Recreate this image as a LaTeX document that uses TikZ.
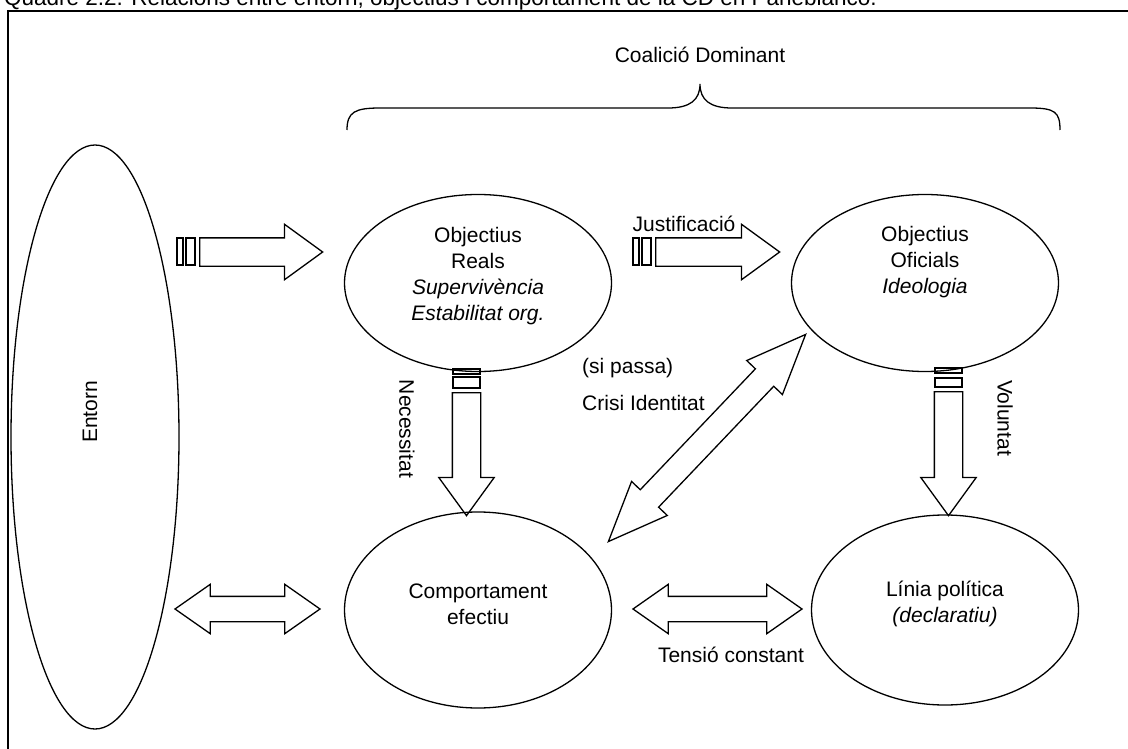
\documentclass[tikz,border=0pt]{standalone}
\usepackage{fontspec}
\setmainfont{Liberation Sans}
\usetikzlibrary{shapes.geometric,shapes.arrows}

\tikzset{
  ell/.style={draw, ellipse, line width=1.3pt, inner sep=0pt},
  txt/.style={font=\fontsize{21}{26}\selectfont, align=center, inner sep=0pt},
  fwdarrow/.style={draw, line width=1.3pt, single arrow, inner xsep=0pt, inner ysep=13.5pt,
    single arrow head extend=13.5pt, single arrow tip angle=72},
  twoarrow/.style={draw, line width=1.3pt, double arrow, inner xsep=0pt, inner ysep=12pt,
    double arrow head extend=12pt, double arrow tip angle=70},
  stripe/.style={draw, line width=1.3pt}
}

\begin{document}
\begin{tikzpicture}[x=1pt, y=-1pt]
\useasboundingbox (0,0) rectangle (1128,749);

% Title and frame
\node[anchor=base west, inner sep=0pt, font=\fontsize{22.5}{26}\selectfont] (title) at (4,5.5)
  {Quadre 2.2. Relacions entre entorn, objectius i comportament de la CD en Panebianco.};
\draw[line width=1.5pt] (8,1200) -- (8,11) -- (1200,11);

% Coalicio
\node[txt] (coal) at (700,55) {Coalició Dominant};
\draw[line width=1.3pt] (347,130) .. controls (347,112) and (355,108) .. (380,108) -- (668,108)
  .. controls (690,108) and (700,100) .. (700,84)
  .. controls (700,100) and (710,108) .. (732,108) -- (1030,108)
  .. controls (1055,108) and (1060,112) .. (1060,130);

% Ellipses
\node[ell, minimum width=168pt, minimum height=584pt] (entorn) at (95,437) {};
\node[txt, rotate=90] (entlbl) at (90,412) {Entorn};

\node[ell, minimum width=267pt, minimum height=177pt] (reals) at (478,283) {};
\node[txt] (realslbl) at (478,276) {Objectius\\Reals\\\textit{Supervivència}\\\textit{Estabilitat org.}};

\node[ell, minimum width=267pt, minimum height=177pt] (oficials) at (925,283) {};
\node[txt] (oficlbl) at (925,262) {Objectius\\Oficials\\\textit{Ideologia}};

\node[ell, minimum width=267pt, minimum height=196pt] (comport) at (478,610) {};
\node[txt] (complbl) at (478,604) {Comportament\\efectiu};

\node[ell, minimum width=267pt, minimum height=190pt] (linia) at (945,610) {};
\node[txt] (linlbl) at (945,604) {Línia política\\\textit{(declaratiu)}};

% Single arrows
\node[fwdarrow, minimum height=123pt, anchor=tail] (inarr) at (199,252) {};
\draw[stripe] (177,238) rectangle (183,265);
\draw[stripe] (186,238) rectangle (195,265);

\node[fwdarrow, minimum height=124pt, anchor=tail] (justarr) at (655,252) {};
\draw[stripe] (633,238) rectangle (639,265);
\draw[stripe] (642,238) rectangle (651,265);
\node[txt] (justlbl) at (684,224) {Justificació};

\node[fwdarrow, minimum height=123pt, anchor=tail, rotate=-90] (necarr) at (466.5,392) {};
\draw[stripe] (453,369) rectangle (480,374);
\draw[stripe] (453,377) rectangle (480,388);
\node[txt, rotate=-90] (neclbl) at (407,429) {Necessitat};

\node[fwdarrow, minimum height=124pt, anchor=tail, rotate=-90] (volarr) at (948.5,391) {};
\draw[stripe] (935,368) rectangle (962,373);
\draw[stripe] (935,378) rectangle (962,387);
\node[txt, rotate=-90] (vollbl) at (1005,418) {Voluntat};

% Double arrows
\node[twoarrow, minimum height=145pt] (entarr) at (247.5,609) {};
\node[twoarrow, minimum height=169pt] (tensarr) at (717.5,609) {};
\node[txt] (tenslbl) at (731,655) {Tensió constant};

\node[twoarrow, minimum height=286pt, rotate=46.4,
  double arrow tip angle=45] (crisarr) at (707,438) {};
\node[txt, anchor=west] (sipassa) at (582,368) {(si passa)};
\node[txt, anchor=west] (crisi) at (582,403) {Crisi Identitat};
\end{tikzpicture}
\end{document}
